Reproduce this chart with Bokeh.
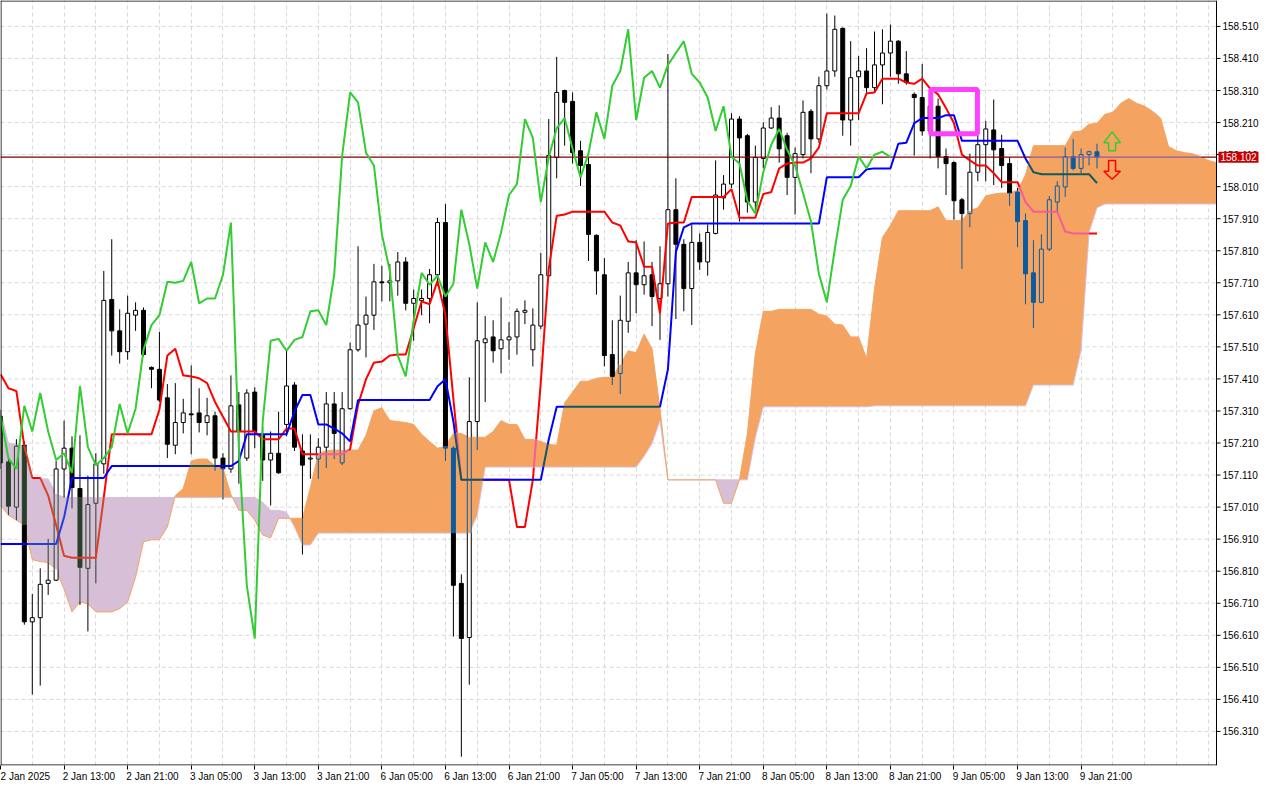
import numpy as np
from bokeh.plotting import figure
from bokeh.models import (Range1d, FixedTicker, BoxAnnotation, ColumnDataSource)
from bokeh.core.properties import value
from bokeh.embed import file_html
from bokeh.resources import INLINE

# ---------------- data ----------------
time_labels = ["2 Jan 2025", "2 Jan 13:00", "2 Jan 21:00", "3 Jan 05:00", "3 Jan 13:00",
               "3 Jan 21:00", "6 Jan 05:00", "6 Jan 13:00", "6 Jan 21:00", "7 Jan 05:00",
               "7 Jan 13:00", "7 Jan 21:00", "8 Jan 05:00", "8 Jan 13:00", "8 Jan 21:00",
               "9 Jan 05:00", "9 Jan 13:00", "9 Jan 21:00"]
time_label_bars = [0, 8, 16, 24, 32, 40, 48, 56, 64, 72, 80, 88, 96, 104, 112, 120, 128, 136]
price_ticks = [156.31, 156.41, 156.51, 156.61, 156.71, 156.81, 156.91, 157.01, 157.11, 157.21,
               157.31, 157.41, 157.51, 157.61, 157.71, 157.81, 157.91, 158.01, 158.11, 158.21,
               158.31, 158.41, 158.51]
last_price = 158.102

opens = [157.293, 157.151, 157.010, 157.203, 156.652, 156.665, 156.772, 156.782, 157.129, 157.194,
         157.068, 156.819, 157.022, 157.145, 157.658, 157.560, 157.495, 157.609, 157.624, 157.446,
         157.440, 157.351, 157.203, 157.274, 157.301, 157.304, 157.274, 157.295, 157.163, 157.129,
         157.329, 157.163, 157.369, 157.237, 157.157, 157.178, 157.268, 157.391, 157.185, 157.160,
         157.160, 157.197, 157.332, 157.148, 157.317, 157.501, 157.581, 157.609, 157.713, 157.710,
         157.716, 157.775, 157.646, 157.655, 157.661, 157.735, 157.898, 157.194, 156.772, 156.603,
         157.277, 157.523, 157.541, 157.504, 157.532, 157.541, 157.618, 157.501, 157.575, 157.732,
         158.101, 158.310, 158.276, 158.122, 158.079, 157.858, 157.735, 157.486, 157.427, 157.590,
         157.741, 157.704, 157.735, 157.661, 157.707, 157.938, 157.830, 157.692, 157.836, 157.775,
         157.864, 157.975, 158.018, 158.221, 158.169, 157.962, 158.098, 158.193, 158.224, 158.169,
         158.039, 158.110, 158.245, 158.159, 158.325, 158.371, 158.504, 158.218, 158.353, 158.371,
         158.319, 158.390, 158.427, 158.464, 158.362, 158.298, 158.288, 158.184, 158.261, 158.104,
         158.085, 157.969, 157.926, 158.055, 158.141, 158.187, 158.129, 158.082, 157.993, 157.904,
         157.741, 157.649, 157.815, 157.962, 158.009, 158.104, 158.067, 158.110, 158.119]
highs = [157.314, 157.169, 157.222, 157.215, 156.739, 156.819, 156.911, 157.154, 157.280, 157.231,
         157.234, 157.108, 157.178, 157.747, 157.846, 157.627, 157.670, 157.649, 157.633, 157.449,
         157.557, 157.394, 157.397, 157.348, 157.452, 157.381, 157.351, 157.308, 157.178, 157.421,
         157.369, 157.378, 157.384, 157.261, 157.246, 157.308, 157.498, 157.400, 157.237, 157.237,
         157.225, 157.369, 157.369, 157.369, 157.523, 157.824, 157.667, 157.769, 157.763, 157.769,
         157.806, 157.790, 157.689, 157.689, 157.753, 157.913, 157.956, 157.200, 156.800, 157.415,
         157.649, 157.606, 157.593, 157.664, 157.587, 157.630, 157.655, 157.630, 157.803, 158.221,
         158.415, 158.313, 158.304, 158.153, 158.101, 157.861, 157.787, 157.593, 157.670, 157.775,
         157.843, 157.839, 157.775, 157.824, 158.424, 158.036, 157.846, 157.892, 157.864, 157.892,
         158.092, 158.046, 158.239, 158.230, 158.175, 158.138, 158.211, 158.258, 158.264, 158.178,
         158.132, 158.279, 158.252, 158.353, 158.550, 158.544, 158.507, 158.464, 158.418, 158.442,
         158.494, 158.501, 158.516, 158.467, 158.433, 158.304, 158.393, 158.276, 158.285, 158.129,
         158.089, 157.975, 158.113, 158.193, 158.215, 158.282, 158.172, 158.101, 158.006, 157.926,
         157.843, 157.861, 157.981, 158.027, 158.132, 158.159, 158.129, 158.122, 158.144]
lows = [157.129, 156.985, 156.969, 156.643, 156.425, 156.453, 156.736, 156.779, 157.040, 157.006,
        156.705, 156.622, 156.772, 157.114, 157.483, 157.458, 157.470, 157.560, 157.480, 157.381,
        157.338, 157.163, 157.175, 157.240, 157.175, 157.243, 157.234, 157.123, 157.034, 157.117,
        157.083, 157.154, 157.194, 157.092, 157.015, 157.114, 157.231, 157.185, 156.862, 157.098,
        157.098, 157.132, 157.160, 157.141, 157.314, 157.495, 157.477, 157.563, 157.652, 157.652,
        157.670, 157.624, 157.529, 157.609, 157.584, 157.701, 157.154, 156.606, 156.231, 156.456,
        157.188, 157.338, 157.461, 157.427, 157.470, 157.486, 157.581, 157.449, 157.566, 157.729,
        158.036, 158.138, 158.082, 158.012, 157.778, 157.673, 157.449, 157.391, 157.363, 157.554,
        157.615, 157.673, 157.575, 157.532, 157.667, 157.597, 157.621, 157.578, 157.750, 157.732,
        157.861, 157.938, 158.006, 157.901, 157.929, 157.929, 158.067, 158.190, 158.085, 157.984,
        157.923, 158.098, 158.052, 158.147, 158.313, 158.353, 158.169, 158.138, 158.218, 158.301,
        158.304, 158.267, 158.353, 158.331, 158.328, 158.107, 158.169, 158.098, 158.067, 157.984,
        157.907, 157.753, 157.883, 158.027, 158.027, 158.015, 158.006, 157.950, 157.821, 157.643,
        157.569, 157.646, 157.809, 157.932, 157.978, 158.061, 158.052, 158.076, 158.067]
closes = [157.148, 157.013, 157.200, 156.652, 156.665, 156.769, 156.782, 157.129, 157.194, 157.071,
          156.822, 157.018, 157.145, 157.655, 157.560, 157.495, 157.615, 157.624, 157.486, 157.440,
          157.344, 157.206, 157.274, 157.304, 157.298, 157.274, 157.295, 157.163, 157.129, 157.326,
          157.246, 157.366, 157.246, 157.157, 157.178, 157.117, 157.388, 157.197, 157.141, 157.163,
          157.197, 157.332, 157.240, 157.317, 157.501, 157.578, 157.609, 157.713, 157.710, 157.716,
          157.775, 157.646, 157.661, 157.661, 157.735, 157.898, 157.194, 156.766, 156.600, 157.277,
          157.529, 157.535, 157.498, 157.532, 157.541, 157.621, 157.624, 157.578, 157.735, 158.107,
          158.304, 158.273, 158.116, 158.076, 157.861, 157.747, 157.483, 157.418, 157.593, 157.741,
          157.704, 157.732, 157.667, 157.707, 157.938, 157.830, 157.692, 157.836, 157.775, 157.867,
          157.984, 158.018, 158.221, 158.162, 157.962, 158.101, 158.193, 158.224, 158.128, 158.039,
          158.113, 158.242, 158.159, 158.325, 158.371, 158.501, 158.218, 158.350, 158.371, 158.319,
          158.390, 158.427, 158.464, 158.362, 158.335, 158.288, 158.184, 158.261, 158.104, 158.082,
          157.966, 157.926, 158.055, 158.141, 158.190, 158.125, 158.076, 157.990, 157.901, 157.738,
          157.649, 157.815, 157.969, 158.012, 158.104, 158.067, 158.110, 158.119, 158.102]

tenkan = [157.425, 157.381, 157.372, 157.200, 157.101, 157.101, 157.046, 156.954, 156.858, 156.852,
          156.852, 156.852, 156.852, 157.040, 157.237, 157.237, 157.237, 157.237, 157.237, 157.237,
          157.314, 157.483, 157.504, 157.421, 157.418, 157.412, 157.397, 157.338, 157.292, 157.246,
          157.246, 157.246, 157.246, 157.222, 157.222, 157.222, 157.255, 157.255, 157.175, 157.175,
          157.175, 157.175, 157.175, 157.175, 157.191, 157.329, 157.409, 157.461, 157.464, 157.483,
          157.486, 157.486, 157.569, 157.652, 157.643, 157.716, 157.609, 157.347, 157.095, 157.095,
          157.095, 157.095, 157.095, 157.095, 157.095, 156.948, 156.948, 157.095, 157.400, 157.753,
          157.919, 157.923, 157.932, 157.932, 157.932, 157.932, 157.932, 157.898, 157.889, 157.839,
          157.836, 157.760, 157.760, 157.615, 157.895, 157.898, 157.898, 157.978, 157.978, 157.978,
          157.978, 157.978, 158.002, 157.913, 157.913, 157.913, 157.987, 157.993, 158.067, 158.082,
          158.085, 158.085, 158.098, 158.132, 158.239, 158.239, 158.239, 158.239, 158.239, 158.301,
          158.304, 158.347, 158.347, 158.347, 158.335, 158.331, 158.347, 158.316, 158.298, 158.255,
          158.208, 158.110, 158.092, 158.076, 158.076, 158.052, 158.024, 158.024, 158.024, 157.962,
          157.932, 157.932, 157.932, 157.932, 157.870, 157.864, 157.864, 157.864, 157.864]
kijun = [156.895, 156.895, 156.895, 156.895, 156.895, 156.895, 156.895, 156.895, 156.978, 157.101,
         157.101, 157.101, 157.101, 157.101, 157.138, 157.138, 157.138, 157.138, 157.138, 157.138,
         157.138, 157.138, 157.138, 157.138, 157.138, 157.138, 157.138, 157.138, 157.138, 157.138,
         157.154, 157.237, 157.237, 157.237, 157.237, 157.237, 157.237, 157.308, 157.360, 157.360,
         157.268, 157.268, 157.255, 157.240, 157.215, 157.344, 157.344, 157.344, 157.344, 157.344,
         157.344, 157.344, 157.344, 157.344, 157.344, 157.387, 157.409, 157.277, 157.095, 157.095,
         157.095, 157.095, 157.095, 157.095, 157.095, 157.095, 157.095, 157.095, 157.095, 157.221,
         157.323, 157.323, 157.323, 157.323, 157.323, 157.323, 157.323, 157.323, 157.323, 157.323,
         157.323, 157.323, 157.323, 157.323, 157.440, 157.806, 157.883, 157.895, 157.895, 157.895,
         157.895, 157.895, 157.895, 157.895, 157.895, 157.895, 157.895, 157.895, 157.895, 157.895,
         157.895, 157.895, 157.895, 157.895, 158.039, 158.039, 158.039, 158.039, 158.039, 158.064,
         158.067, 158.067, 158.067, 158.144, 158.147, 158.208, 158.224, 158.224, 158.224, 158.233,
         158.233, 158.153, 158.153, 158.153, 158.153, 158.153, 158.153, 158.153, 158.153, 158.098,
         158.055, 158.049, 158.049, 158.049, 158.049, 158.049, 158.049, 158.049, 158.021]
span_a = [157.015, 156.985, 156.969, 156.954, 156.846, 156.840, 156.837, 156.816, 156.754, 156.683,
          156.714, 156.708, 156.683, 156.683, 156.683, 156.693, 156.714, 156.791, 156.902, 156.908,
          156.908, 156.948, 157.046, 157.068, 157.154, 157.160, 157.160, 157.138, 157.132, 157.049,
          157.000, 157.000, 156.969, 156.923, 156.914, 156.975, 156.975, 156.975, 156.975, 157.071,
          157.178, 157.185, 157.188, 157.188, 157.188, 157.188, 157.234, 157.311, 157.320, 157.280,
          157.277, 157.274, 157.268, 157.237, 157.215, 157.194, 157.200, 157.240, 157.240, 157.228,
          157.228, 157.228, 157.246, 157.280, 157.268, 157.268, 157.221, 157.221, 157.215, 157.206,
          157.203, 157.335, 157.369, 157.403, 157.403, 157.412, 157.415, 157.415, 157.455, 157.498,
          157.492, 157.550, 157.504, 157.317, 157.095, 157.095, 157.095, 157.095, 157.095, 157.095,
          157.095, 157.022, 157.022, 157.095, 157.240, 157.489, 157.621, 157.621, 157.627, 157.627,
          157.627, 157.627, 157.627, 157.612, 157.606, 157.581, 157.578, 157.541, 157.541, 157.474,
          157.692, 157.852, 157.889, 157.935, 157.935, 157.935, 157.935, 157.935, 157.947, 157.904,
          157.904, 157.904, 157.935, 157.944, 157.981, 157.987, 157.990, 157.990, 157.999, 158.046,
          158.138, 158.138, 158.138, 158.138, 158.138, 158.181, 158.184, 158.205, 158.208, 158.236,
          158.242, 158.270, 158.285, 158.270, 158.261, 158.245, 158.224, 158.135, 158.122, 158.116,
          158.113, 158.104, 158.092, 158.085]
span_b = [157.314, 157.209, 157.206, 157.200, 157.101, 157.098, 157.098, 157.052, 157.040, 157.040,
          157.040, 157.040, 157.040, 157.040, 157.040, 157.040, 157.040, 157.040, 157.040, 157.040,
          157.040, 157.040, 157.040, 157.040, 157.040, 157.040, 157.040, 157.040, 157.040, 157.040,
          157.040, 157.040, 157.040, 157.025, 157.000, 157.000, 156.994, 156.948, 156.892, 156.892,
          156.929, 156.929, 156.929, 156.929, 156.929, 156.929, 156.929, 156.929, 156.929, 156.929,
          156.929, 156.929, 156.929, 156.929, 156.929, 156.929, 156.929, 156.929, 156.929, 156.929,
          156.985, 157.135, 157.135, 157.135, 157.135, 157.135, 157.135, 157.135, 157.135, 157.135,
          157.135, 157.135, 157.135, 157.135, 157.135, 157.135, 157.135, 157.135, 157.135, 157.135,
          157.135, 157.169, 157.209, 157.280, 157.095, 157.095, 157.095, 157.095, 157.095, 157.095,
          157.095, 157.095, 157.095, 157.095, 157.095, 157.228, 157.323, 157.323, 157.323, 157.323,
          157.323, 157.323, 157.323, 157.323, 157.323, 157.323, 157.323, 157.323, 157.323, 157.323,
          157.326, 157.326, 157.326, 157.326, 157.326, 157.326, 157.326, 157.326, 157.326, 157.326,
          157.326, 157.326, 157.326, 157.326, 157.326, 157.326, 157.326, 157.326, 157.326, 157.326,
          157.391, 157.391, 157.391, 157.391, 157.391, 157.391, 157.501, 157.867, 157.944, 157.956,
          157.956, 157.956, 157.956, 157.956, 157.956, 157.956, 157.956, 157.956, 157.956, 157.956,
          157.956, 157.956, 157.956, 157.956]
chikou_shift = 26

# annotations (placed on the bar / price axes)
box_bars = (117.08, 122.95)
box_prices = (158.175, 158.313)
signal_bar = 139.9
up_arrow_prices = (158.122, 158.147, 158.181)     # shaft bottom, head base, tip
down_arrow_prices = (158.092, 158.058, 158.033)   # shaft top, head base, tip

# ---------------- styles / layout ----------------
SANDY = "#F4A460"
THISTLE = "#D8BFD8"
RED = "#FF0000"
BLUE = "#0000FF"
GREEN = "#32CD32"
BLACK = "#000000"
WHITE = "#FFFFFF"
PRICE_LINE = "#800000"
TAG = "#C80000"
GRID = "#D9D9D9"
FONT = "Liberation Sans"

FIG_W, FIG_H = 1264, 784
AXIS_X = 153.04                 # right edge of the chart area, in bars
PX_PER_BAR = 1216 / AXIS_X      # chart area 1216 px wide
X_END = FIG_W / PX_PER_BAR
Y0, Y1 = 156.2037, 158.5909
PPX_X = 1.0 / PX_PER_BAR
PPX_Y = (Y1 - Y0) / 767.0

N = len(opens)
NC = len(span_a)
cbars = np.arange(NC)
A = np.array(span_a)
B = np.array(span_b)


def xor_col(cloud, col):
    c = int(cloud[1:], 16)
    l = int(col[1:], 16)
    return "#%06X" % (c ^ (~l & 0xFFFFFF))


def cloud_at(x):
    a = float(np.interp(x, cbars, A))
    b = float(np.interp(x, cbars, B))
    return min(a, b), max(a, b), (SANDY if a >= b else THISTLE)


def pieces(a, b, lo, hi):
    cuts = sorted(set([a, b] + [v for v in (lo, hi) if a < v < b]))
    res = []
    for k in range(len(cuts) - 1):
        m = 0.5 * (cuts[k] + cuts[k + 1])
        res.append((cuts[k], cuts[k + 1], lo <= m <= hi))
    return res


def split_line(xs, ys, color, nsub=24):
    out_x, out_y, out_c = [], [], []
    cur_x = cur_y = cur_c = None
    for k in range(len(xs) - 1):
        for s in range(nsub):
            t0, t1 = s / nsub, (s + 1) / nsub
            xa = xs[k] + (xs[k + 1] - xs[k]) * t0
            ya = ys[k] + (ys[k + 1] - ys[k]) * t0
            xb = xs[k] + (xs[k + 1] - xs[k]) * t1
            yb = ys[k] + (ys[k + 1] - ys[k]) * t1
            lo, hi, cc = cloud_at(0.5 * (xa + xb))
            ym = 0.5 * (ya + yb)
            col = xor_col(cc, color) if lo <= ym <= hi else color
            if col != cur_c:
                if cur_c is not None:
                    out_x.append(cur_x); out_y.append(cur_y); out_c.append(cur_c)
                cur_x, cur_y, cur_c = [xa], [ya], col
            cur_x.append(xb); cur_y.append(yb)
    if cur_c is not None:
        out_x.append(cur_x); out_y.append(cur_y); out_c.append(cur_c)
    return out_x, out_y, out_c


p = figure(width=FIG_W, height=FIG_H, x_range=Range1d(0, X_END), y_range=Range1d(Y0, Y1),
           output_backend="svg", toolbar_location=None, y_axis_location=None, min_border=0,
           background_fill_color=WHITE, border_fill_color=WHITE)
p.outline_line_color = None

# vertical grid (Bokeh) and horizontal grid (drawn up to the price axis)
p.xgrid.ticker = FixedTicker(ticks=list(range(0, 153, 4)))
p.xgrid.grid_line_color = GRID
p.xgrid.grid_line_dash = "4 3"
p.ygrid.visible = False
p.segment(x0=[0] * len(price_ticks), y0=price_ticks, x1=[AXIS_X] * len(price_ticks),
          y1=price_ticks, line_color=GRID, line_width=1, line_dash="4 3")

# bottom time axis: tick marks on the bars (minor), labels to the right of them
label_pos = [b + 3.125 for b in time_label_bars]
xax = p.xaxis[0]
xax.ticker = FixedTicker(ticks=label_pos, minor_ticks=time_label_bars)
xax.major_label_overrides = {lp: t for lp, t in zip(label_pos, time_labels)}
xax.major_tick_line_color = None
xax.major_tick_out = 4
xax.major_tick_in = 0
xax.minor_tick_line_color = BLACK
xax.minor_tick_out = 4
xax.minor_tick_in = 0
xax.axis_line_color = None
xax.major_label_standoff = 1
xax.major_label_text_font = FONT
xax.major_label_text_font_size = "10px"
xax.major_label_text_color = BLACK

# cloud with exact crossing points
xs_c, ya, yb = [0.0], [A[0]], [B[0]]
for j in range(NC - 1):
    d0, d1 = A[j] - B[j], A[j + 1] - B[j + 1]
    if d0 * d1 < 0:
        t = d0 / (d0 - d1)
        v = A[j] + t * (A[j + 1] - A[j])
        xs_c.append(j + t); ya.append(v); yb.append(v)
    xs_c.append(j + 1.0); ya.append(A[j + 1]); yb.append(B[j + 1])
ya = np.array(ya); yb = np.array(yb)
top_c = np.maximum(ya, yb)
p.varea(x=xs_c, y1=yb, y2=top_c, fill_color=SANDY)
p.varea(x=xs_c, y1=ya, y2=top_c, fill_color=THISTLE)
p.line(cbars, B, line_color=THISTLE, line_width=1)
p.line(cbars, A, line_color=SANDY, line_width=1)

# candles (colours inverted where they lie inside the cloud)
hw = 0.25
ql, qr, qb, qt, qc = [], [], [], [], []
sx0, sy0, sx1, sy1, sc = [], [], [], [], []
for i in range(N):
    o, h, l, c = opens[i], highs[i], lows[i], closes[i]
    lo, hi, cc = cloud_at(i)
    ink_in = xor_col(cc, BLACK)
    btop, bbot = max(o, c), min(o, c)
    bull = c > o
    for a, b in ((l, bbot), (btop, h)):
        if b > a:
            for a2, b2, ins in pieces(a, b, lo, hi):
                sx0.append(i); sy0.append(a2); sx1.append(i); sy1.append(b2)
                sc.append(ink_in if ins else BLACK)
    if btop > bbot:
        for a2, b2, ins in pieces(bbot, btop, lo, hi):
            ql.append(i - hw); qr.append(i + hw); qb.append(a2); qt.append(b2)
            if bull:
                qc.append(cc if ins else WHITE)
            else:
                qc.append(ink_in if ins else BLACK)
            for xe in (i - hw, i + hw):
                sx0.append(xe); sy0.append(a2); sx1.append(xe); sy1.append(b2)
                sc.append(ink_in if ins else BLACK)
    for ye in (bbot, btop):
        ins = lo <= ye <= hi
        sx0.append(i - hw); sy0.append(ye); sx1.append(i + hw); sy1.append(ye)
        sc.append(ink_in if ins else BLACK)
p.quad(left=ql, right=qr, bottom=qb, top=qt, fill_color=qc, line_color=None)
p.segment(x0=sx0, y0=sy0, x1=sx1, y1=sy1, line_color=sc, line_width=1)

# tenkan / kijun / price line (inverted inside the cloud)
bars = list(range(N))
for series, col in ((tenkan, RED), (kijun, BLUE)):
    mx, my, mc = split_line(bars, series, col)
    p.multi_line(xs="xs", ys="ys", line_color="c", line_width=2,
                 source=ColumnDataSource(dict(xs=mx, ys=my, c=mc)))
px = list(range(NC))
mx, my, mc = split_line(px, [last_price] * NC, PRICE_LINE, nsub=8)
p.multi_line(xs="xs", ys="ys", line_color="c", line_width=1.2,
             source=ColumnDataSource(dict(xs=mx, ys=my, c=mc)))

# chikou span (close shifted back)
p.line(bars[:N - chikou_shift], closes[chikou_shift:], line_color=GREEN, line_width=2)

# signal box and arrows
p.add_layout(BoxAnnotation(left=box_bars[0], right=box_bars[1], bottom=box_prices[0],
                           top=box_prices[1], fill_color=None, fill_alpha=0,
                           line_color="#FF40FF", line_alpha=1.0, line_width=5))
hw_head, hw_shaft = 1.05, 0.44
ub, uh, ut = up_arrow_prices
db, dh, dt = down_arrow_prices
sb = signal_bar
ax_x = [sb - hw_shaft, sb + hw_shaft, sb + hw_shaft, sb + hw_head, sb, sb - hw_head, sb - hw_shaft]
p.patches(xs=[ax_x], ys=[[ub, ub, uh, uh, ut, uh, uh]], fill_color=None,
          line_color=GREEN, line_width=1.5)
p.patches(xs=[ax_x], ys=[[db, db, dh, dh, dt, dh, dh]], fill_color=None,
          line_color=RED, line_width=1.5)

# chart frame (top, left, bottom, right price axis)
p.segment(x0=[0, 0.5 * PPX_X, 0, AXIS_X], y0=[Y1 - 0.5 * PPX_Y, Y0, Y0 + 0.5 * PPX_Y, Y0],
          x1=[AXIS_X, 0.5 * PPX_X, AXIS_X, AXIS_X], y1=[Y1 - 0.5 * PPX_Y, Y1, Y0 + 0.5 * PPX_Y, Y1],
          line_color=BLACK, line_width=1)

# right price axis: ticks and labels
nt = len(price_ticks)
p.segment(x0=[AXIS_X] * nt, y0=price_ticks, x1=[AXIS_X + 4 * PPX_X] * nt, y1=price_ticks,
          line_color=BLACK, line_width=1)
p.text(x=[AXIS_X + 6 * PPX_X] * nt, y=price_ticks, text=["%.3f" % t for t in price_ticks],
       text_font=value(FONT), text_font_size=value("10px"), text_color=BLACK,
       text_align="left", text_baseline="middle")

# current price tag
p.quad(left=[AXIS_X + 2 * PPX_X], right=[AXIS_X + 42 * PPX_X],
       bottom=[last_price - 5.5 * PPX_Y], top=[last_price + 5.5 * PPX_Y],
       fill_color=TAG, line_color=None)
p.text(x=[AXIS_X + 4 * PPX_X], y=[last_price], text=["%.3f" % last_price],
       text_font=value(FONT), text_font_size=value("10px"), text_color=WHITE,
       text_align="left", text_baseline="middle")

open("out.html", "w").write(file_html(p, INLINE))
